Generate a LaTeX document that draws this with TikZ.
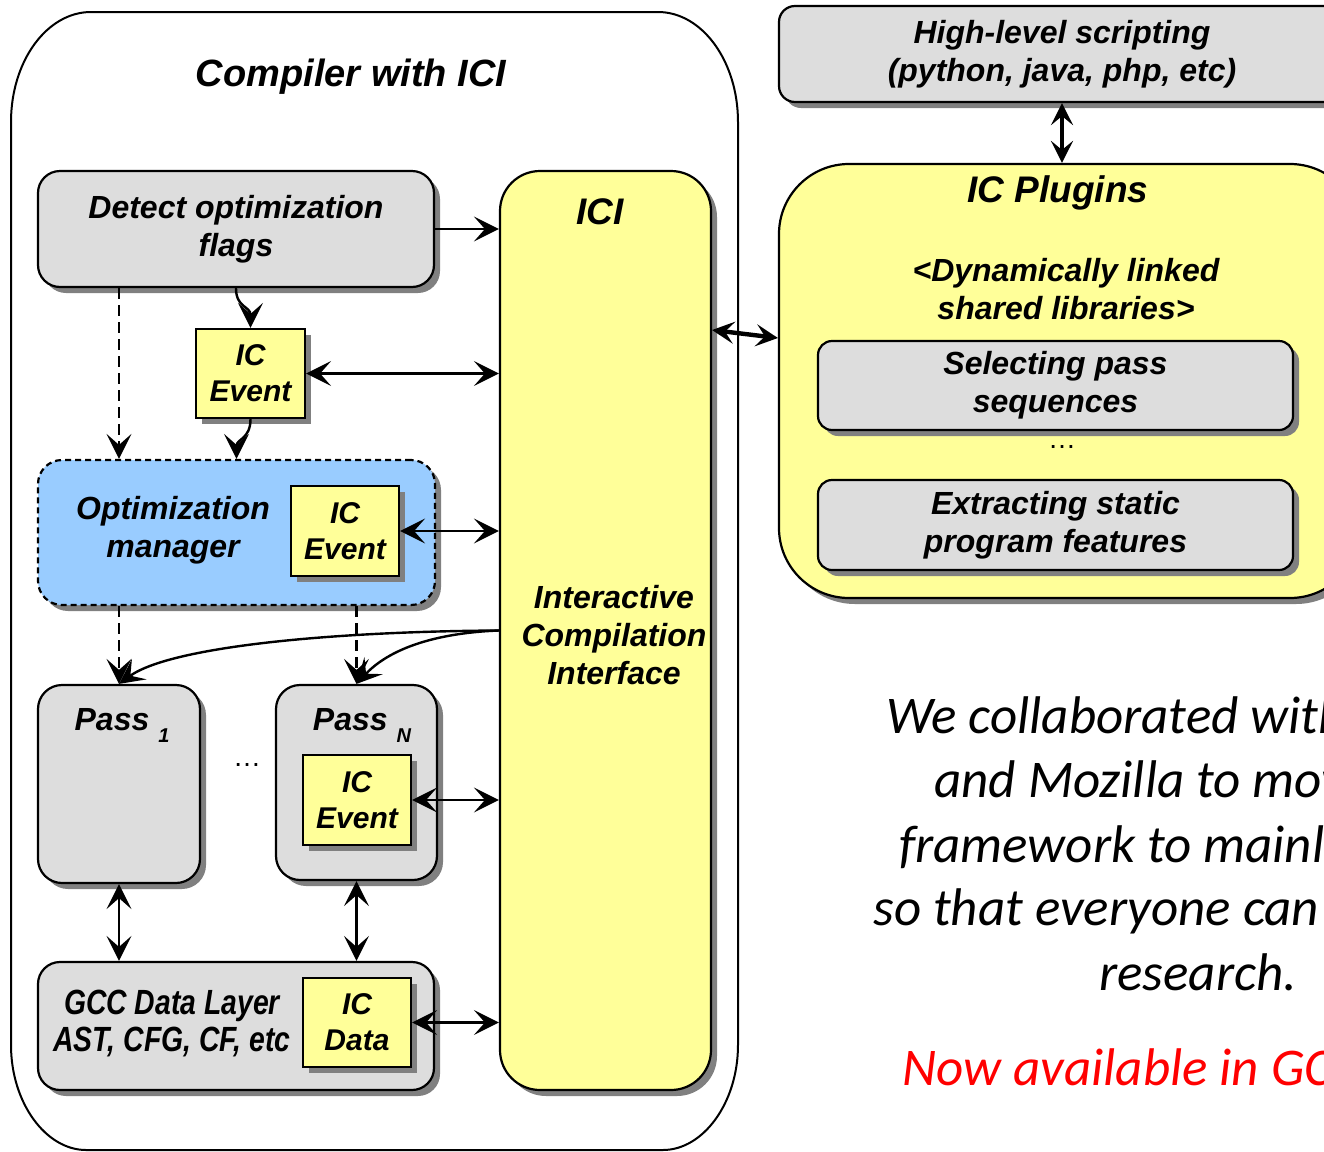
\documentclass[tikz,border=0pt]{standalone}
\usepackage{fontspec}
\setmainfont{Liberation Sans}
\newfontfamily\narrowfont[FakeStretch=0.81]{Liberation Sans}
\newfontfamily\calfont{Carlito}
\usetikzlibrary{arrows.meta,shadows,calc}
\definecolor{gfill}{HTML}{DDDDDD}
\definecolor{yfill}{HTML}{FFFF99}
\definecolor{bfill}{HTML}{99CCFF}
\definecolor{shadowgray}{HTML}{808080}
\definecolor{nowred}{HTML}{FF0000}
\tikzset{
  shd/.style={drop shadow={shadow xshift=3pt,shadow yshift=-3pt,fill=shadowgray,opacity=1}},
  bx/.style={draw,line width=1.1pt,shd,inner sep=0pt,align=center,
    font=\bfseries\itshape\fontsize{16}{19}\selectfont},
  gbox/.style={bx,fill=gfill},
  ybox/.style={bx,fill=yfill},
  evbox/.style={bx,fill=yfill,minimum width=54pt,minimum height=45pt,
    font=\bfseries\itshape\fontsize{15}{18}\selectfont},
  lbl/.style={inner sep=0pt,align=center,font=\bfseries\itshape\fontsize{16}{19}\selectfont},
  arr/.style={line width=1.2pt,-{Stealth[length=12.5pt,width=12.5pt,inset=5.5pt]}},
  barr/.style={line width=1.2pt,{Stealth[length=12.5pt,width=12.5pt,inset=5.5pt]}-{Stealth[length=12.5pt,width=12.5pt,inset=5.5pt]}},
  tbarr/.style={line width=2.2pt,{Stealth[length=11pt,width=11pt,inset=4.5pt]}-{Stealth[length=11pt,width=11pt,inset=4.5pt]}},
  darr/.style={arr,line width=1.3pt,dash pattern=on 5.5pt off 3pt},
  rtext/.style={anchor=base west,inner sep=0pt,font=\calfont\itshape\fontsize{26.5}{30}\selectfont},
}
\begin{document}
\begin{tikzpicture}[x=0.5pt,y=-0.5pt]
\useasboundingbox (0,0) rectangle (1324,1152);
\clip (0,0) rectangle (1324,1152);
\fill[white] (0,0) rectangle (1324,1152);

% outer compiler box
\draw[line width=1pt] (11,122) .. controls (11,61) and (47,12) .. (91,12) -- (658,12)
  .. controls (702,12) and (738,61) .. (738,122) -- (738,1045)
  .. controls (738,1103) and (703,1150) .. (663,1150) -- (86,1150)
  .. controls (46,1150) and (11,1103) .. (11,1045) -- cycle;
\node[lbl,font=\bfseries\itshape\fontsize{19}{22}\selectfont] (title) at (351,77) {Compiler with ICI};

% ICI column
\node[ybox,rounded corners=20pt,minimum width=105.5pt,minimum height=459.5pt] (ici) at (605.5,630.5) {};
\node[lbl,font=\bfseries\itshape\fontsize{18.5}{22}\selectfont] (icititle) at (600,212) {ICI};
\node[lbl] (icitext) at (614,635) {Interactive\\Compilation\\Interface};

% detect
\node[gbox,rounded corners=11pt,minimum width=198pt,minimum height=58pt] (detect) at (236,229) {Detect optimization\\flags};

% IC event 1
\node[evbox,minimum width=54.5pt,minimum height=44.5pt] (ev1) at (250.5,373.5) {IC\\Event};

% optimization manager
\node[bx,fill=bfill,rounded corners=12pt,dash pattern=on 3pt off 2pt,minimum width=198.5pt,minimum height=72.5pt] (om) at (236.5,532.5) {};
\node[lbl] (omtext) at (173,530) {Optimization\\manager};
\node[evbox] (ev2) at (345,531) {IC\\Event};

% passes
\node[gbox,rounded corners=12pt,minimum width=81pt,minimum height=99pt] (pass1) at (119,784) {};
\node[lbl,anchor=base] (p1text) at (122,730) {Pass \raisebox{-6pt}{\fontsize{10}{10}\selectfont 1}};
\node[gbox,rounded corners=12pt,minimum width=80.5pt,minimum height=97.5pt] (passN) at (356.5,782.5) {};
\node[lbl,anchor=base] (pNtext) at (362,730) {Pass \raisebox{-6pt}{\fontsize{10}{10}\selectfont N}};
\node[evbox] (ev3) at (357,800) {IC\\Event};
\node[inner sep=0pt,font=\fontsize{14}{14}\selectfont] (dots1) at (247,765) {\dots};

% GCC data layer
\node[gbox,rounded corners=11pt,minimum width=198pt,minimum height=64pt] (gcc) at (236,1026) {};
\node[lbl,font=\narrowfont\bfseries\itshape\fontsize{17.5}{18.5}\selectfont] (gcctext) at (172,1023) {GCC Data Layer\\AST, CFG, CF, etc};
\node[evbox,minimum height=44.5pt] (icdata) at (357,1022.5) {IC\\Data};

% right side
\node[gbox,rounded corners=8pt,minimum width=283pt,minimum height=48pt] (hls) at (1062,54) {High-level scripting\\(python, java, php, etc)};
\node[ybox,rounded corners=35pt,minimum width=290.5pt,minimum height=217pt] (plugins) at (1069.5,381) {};
\node[lbl,font=\bfseries\itshape\fontsize{18.5}{22}\selectfont] (pltitle) at (1058,193) {IC Plugins};
\node[lbl] (pltext) at (1066,289) {<Dynamically linked\\shared libraries>};
\node[gbox,rounded corners=7pt,minimum width=237.5pt,minimum height=44.5pt] (sel) at (1055.5,385.5) {Selecting pass\\sequences};
\node[inner sep=0pt,font=\fontsize{14}{14}\selectfont] (dots2) at (1062,447) {\dots};
\node[gbox,rounded corners=7pt,minimum width=237.5pt,minimum height=45pt] (ext) at (1055.5,525) {Extracting static\\program features};

% connectors
\draw[arr] (detect.east) -- (detect.east -| ici.west);
\draw[arr] (detect.south) .. controls +(0,20) and +(0,-22) .. (ev1.north);
\draw[barr] (ev1.east) -- (ev1.east -| ici.west);
\draw[arr] (ev1.south) .. controls +(0,20) and +(0,-20) .. (om.north);
\draw[darr] (detect.south -| pass1.north) -- (om.north -| pass1.north);
\draw[barr] (ev2.east) -- (ev2.east -| ici.west);
\draw[darr] (om.south -| pass1.north) -- (pass1.north);
\draw[darr] (om.south -| passN.north) -- (passN.north);
\draw[arr] (ici.west) .. controls +(-170,1) and +(51,-37) .. (pass1.north);
\draw[arr] (ici.west) .. controls +(-75,3) and +(28,-30) .. (passN.north);
\draw[barr] (ev3.east) -- (ev3.east -| ici.west);
\draw[barr] (pass1.south) -- (pass1.south |- gcc.north);
\draw[barr] (passN.south) -- (passN.south |- gcc.north);
\draw[barr] (icdata.east) -- (icdata.east -| ici.west);
\coordinate (ipA) at (711,330);
\coordinate (ipB) at (779,338);
\draw[tbarr] (ici.east |- ipA) -- (plugins.west |- ipB);
\draw[tbarr] (hls.south) -- (hls.south |- plugins.north);

% text
\node[rtext] (t1) at (886,733) {We collaborated with};
\node[rtext] (t2) at (934,797) {and Mozilla to move};
\node[rtext] (t3) at (899,862) {framework to mainline};
\node[rtext] (t4) at (873,925) {so that everyone can};
\node[rtext] (t5) at (1099,990) {research.};
\node[rtext,text=nowred] (t6) at (902,1085) {Now available in GCC};
\end{tikzpicture}
\end{document}
